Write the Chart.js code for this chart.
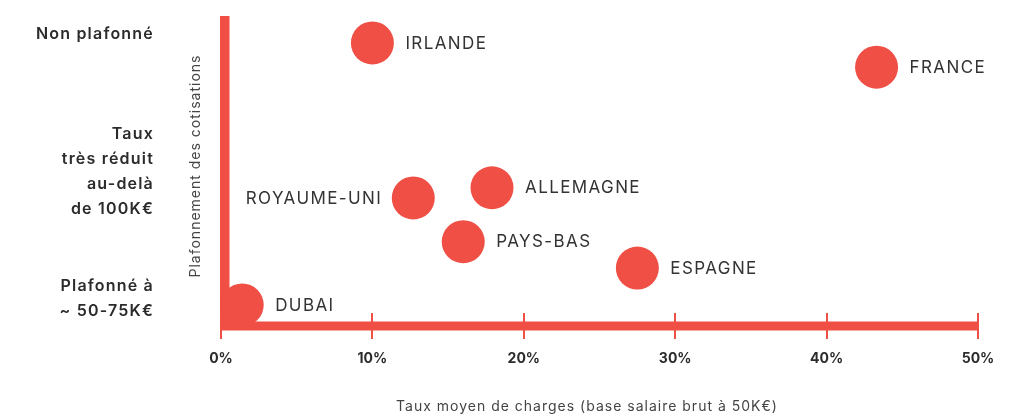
<!DOCTYPE html>
<html>
<head>
<meta charset="utf-8">
<script src="https://cdn.jsdelivr.net/npm/chart.js@4/dist/chart.umd.min.js"></script>
<style>
  html, body { margin: 0; padding: 0; background: #fff; }
  #wrap { width: 1018px; height: 416px; }
</style>
</head>
<body>
<div id="wrap"><canvas id="plafond"></canvas></div>
<script>
// donnees
const countries = ['IRLANDE', 'FRANCE', 'ROYAUME-UNI', 'ALLEMAGNE', 'PAYS-BAS', 'ESPAGNE', 'DUBAI']
const chargeRates = [10, 43.3, 12.7, 17.9, 16, 27.5, 1.4]
const capLevels = [9.13, 8.35, 4.13, 4.46, 2.72, 1.87, 0.68]
const xTickValues = [0, 10, 20, 30, 40, 50]
const yTickValues = [0.89, 4.98, 9.4]
const yTickLabels = [
    ['Plafonné à', '~ 50-75K€'],
    ['Taux', 'très réduit', 'au-delà', 'de 100K€'],
    ['Non plafonné']
]
const xTitle = 'Taux moyen de charges (base salaire brut à 50K€)'
const yTitle = 'Plafonnement des cotisations'

const red = '#f04f45'
const ink = '#2b2b2b'
const FONT = 'Inter, "Open Sans", sans-serif'

const decor = {
    id: 'decor',
    beforeDatasetsDraw(chart) {
        const ctx = chart.ctx
        const x = chart.scales.x
        const y = chart.scales.y
        const area = chart.chartArea
        ctx.save()
        // axes epais
        ctx.fillStyle = red
        ctx.fillRect(area.left - 1, area.top, 9.5, area.bottom - area.top + 4)
        ctx.fillRect(area.left - 1, area.bottom - 4.5, area.right - area.left + 2, 9)
        // petits traits de graduation de part et d'autre de l'axe
        ctx.strokeStyle = red
        ctx.lineWidth = 2
        x.ticks.forEach(t => {
            const px = Math.round(x.getPixelForValue(t.value))
            ctx.beginPath()
            ctx.moveTo(px, area.bottom - 13)
            ctx.lineTo(px, area.bottom + 13)
            ctx.stroke()
        })
        // etiquettes de l'axe vertical
        ctx.fillStyle = ink
        ctx.font = '600 16px ' + FONT
        ctx.letterSpacing = '1.2px'
        ctx.textAlign = 'right'
        ctx.textBaseline = 'middle'
        y.ticks.forEach((t, i) => {
            const lines = yTickLabels[i]
            const py = y.getPixelForValue(t.value)
            lines.forEach((line, k) => {
                ctx.fillText(line, 154, py + (k - (lines.length - 1) / 2) * 25)
            })
        })
        // titres des axes
        ctx.fillStyle = '#444'
        ctx.font = '14px ' + FONT
        ctx.letterSpacing = '1px'
        ctx.textAlign = 'center'
        ctx.fillText(xTitle, 587, 407)
        ctx.translate(195.5, 166)
        ctx.rotate(-Math.PI / 2)
        ctx.fillText(yTitle, 0, 0)
        ctx.restore()
    },
    afterDatasetsDraw(chart) {
        const ctx = chart.ctx
        const meta = chart.getDatasetMeta(0)
        ctx.save()
        ctx.fillStyle = '#333'
        ctx.font = '17px ' + FONT
        ctx.letterSpacing = '1.4px'
        ctx.textBaseline = 'middle'
        meta.data.forEach((pt, i) => {
            const name = countries[i]
            if (name === 'ROYAUME-UNI') {
                ctx.textAlign = 'right'
                ctx.fillText(name, pt.x - 31, pt.y + 0.5)
            } else {
                ctx.textAlign = 'left'
                ctx.fillText(name, pt.x + 33, pt.y + 0.5)
            }
        })
        ctx.restore()
    }
}

const plafond = new Chart(
    document.getElementById('plafond'),
    {
        type: 'scatter',
        data: {
            datasets: [{
                label: 'pays',
                data: chargeRates.map((v, i) => ({ x: v, y: capLevels[i] })),
                backgroundColor: red,
                borderColor: red,
                pointRadius: 21.5,
                pointHoverRadius: 21.5,
                borderWidth: 0,
                clip: false
            }]
        },
        plugins: [decor],
        options: {
            responsive: true,
            maintainAspectRatio: false,
            animation: false,
            events: [],
            layout: {
                autoPadding: false,
                padding: { top: 16, right: 40, bottom: 0, left: 0 }
            },
            plugins: {
                legend: { display: false },
                tooltip: { enabled: false }
            },
            scales: {
                x: {
                    type: 'linear',
                    min: 0,
                    max: 50,
                    afterFit(scale) {
                        scale.height = 90
                        scale.paddingLeft = 0
                        scale.paddingRight = 0
                    },
                    afterBuildTicks(scale) { scale.ticks = xTickValues.map(v => ({ value: v })) },
                    grid: { display: false, drawTicks: false },
                    border: { display: false },
                    ticks: {
                        padding: 24,
                        color: ink,
                        font: { family: FONT, size: 14, weight: 'bold' },
                        callback: v => v + '%'
                    }
                },
                y: {
                    type: 'linear',
                    min: 0,
                    max: 10,
                    afterFit(scale) {
                        scale.width = 221
                        scale.paddingTop = 0
                        scale.paddingBottom = 0
                    },
                    afterBuildTicks(scale) { scale.ticks = yTickValues.map(v => ({ value: v })) },
                    grid: { display: false, drawTicks: false },
                    border: { display: false },
                    ticks: { display: false }
                }
            }
        }
    }
)
</script>
</body>
</html>
